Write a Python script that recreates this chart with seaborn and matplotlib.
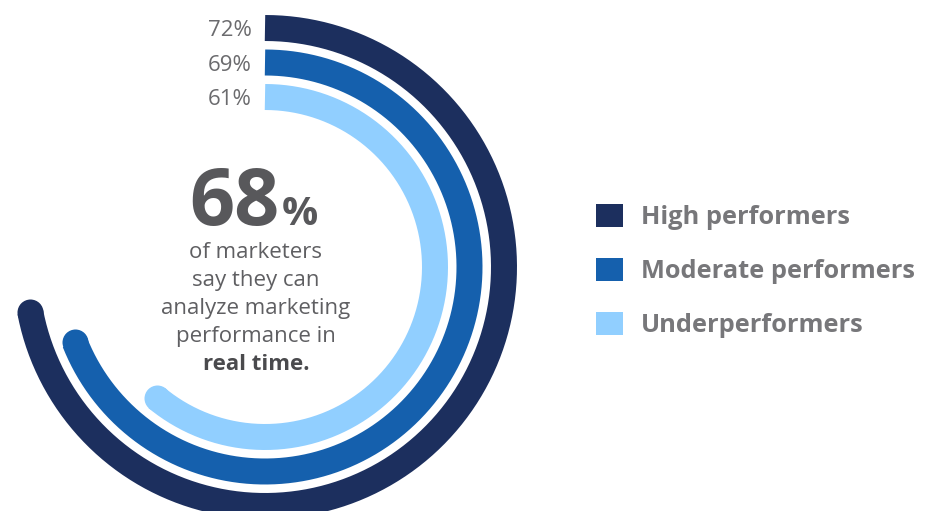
import numpy as np
import matplotlib
matplotlib.use("Agg")
import matplotlib.pyplot as plt
import seaborn as sns
from matplotlib.patches import Patch

# ---- data ----
categories = ["High performers", "Moderate performers", "Underperformers"]
values = [72, 69, 61]
value_labels = ["72%", "69%", "61%"]
headline_value = "68"
headline_unit = "%"
body_lines = ["of marketers", "say they can", "analyze marketing", "performance in"]
body_bold = "real time."

colors = ["#1c2f5e", "#1560ad", "#91cfff"]

sns.set_theme(style="white")
plt.rcParams["font.family"] = ["Open Sans", "DejaVu Sans"]

W, H = 927, 511
fig = plt.figure(figsize=(W / 100, H / 100), dpi=100)
fig.patch.set_facecolor("white")

# polar axes centred at arc centre (pixel layout)
cx, cy = 265, H - 267
RMAX = 262
ax = fig.add_axes([(cx - RMAX) / W, (cy - RMAX) / H, 2 * RMAX / W, 2 * RMAX / H],
                  projection="polar")
ax.set_theta_zero_location("N")
ax.set_theta_direction(-1)
ax.set_ylim(0, RMAX)
ax.set_axis_off()

radii = [239, 204.5, 170]
band_pt = 26 * 72 / 100

for v, r, c, lab in zip(values, radii, colors, value_labels):
    theta = np.linspace(0, 2 * np.pi * v / 100, 400)
    sns.lineplot(x=theta, y=np.full_like(theta, r), ax=ax, color=c,
                 linewidth=band_pt, solid_capstyle="butt", sort=False)
    ax.plot([theta[-1]], [r], marker="o", markersize=band_pt, color=c,
            markeredgewidth=0, clip_on=False)
    ax.annotate(lab, xy=(0, r), xytext=(-13, -8), textcoords="offset pixels",
                ha="right", va="baseline", fontsize=16, color="#6b6b6e",
                annotation_clip=False)

# centre text
text_col = "#58585b"
fig.text(279 / W, 1 - 225 / H, headline_value, ha="right", va="baseline",
         fontsize=57, fontweight="bold", color=text_col)
fig.text(282 / W, 1 - 225 / H, headline_unit, ha="left", va="baseline",
         fontsize=29, fontweight="bold", color=text_col)

baselines = [258, 286, 314, 342]
for line, b in zip(body_lines, baselines):
    fig.text(256 / W, 1 - b / H, line, ha="center", va="baseline",
             fontsize=16, color="#5f5f62")
fig.text(256 / W, 1 - 370 / H, body_bold, ha="center", va="baseline",
         fontsize=16, fontweight="bold", color="#4a4a4d")

# legend
handles = [Patch(facecolor=c, edgecolor="none") for c in colors]
fig.legend(handles, categories, loc="center left",
           bbox_to_anchor=(596 / W, 1 - 271 / H), frameon=False,
           prop={"size": 18.3, "weight": "bold"}, labelcolor="#77777a",
           handlelength=1.05, handleheight=1.05, handletextpad=0.72,
           labelspacing=1.08, borderpad=0, borderaxespad=0)

fig.savefig("out.png", dpi=100, facecolor="white")
